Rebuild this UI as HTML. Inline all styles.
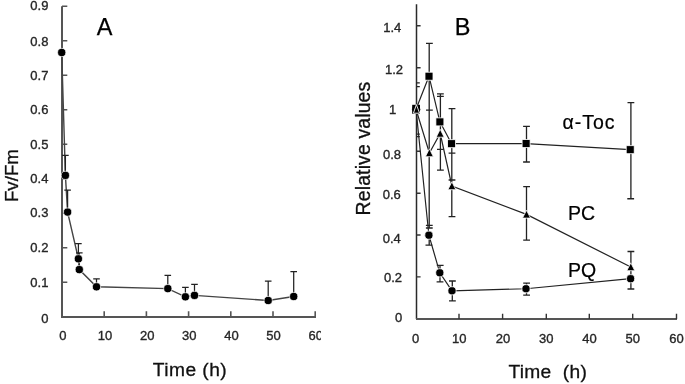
<!DOCTYPE html>
<html><head><meta charset="utf-8"><style>
html,body{margin:0;padding:0;background:#fff;}
body{width:685px;height:384px;overflow:hidden;}
svg{display:block;filter:grayscale(1);}
text{font-family:"Liberation Sans", sans-serif;}
.tk{font-size:13px;fill:#262626;stroke:#262626;stroke-width:0.35px;}
.big{font-size:23.5px;fill:#000;stroke:#000;stroke-width:0.25px;}
.ttl{font-size:18.7px;fill:#111;stroke:#111;stroke-width:0.3px;}
.lbl{font-size:19.5px;fill:#000;stroke:#000;stroke-width:0.2px;}
</style></head><body>
<svg width="685" height="384" viewBox="0 0 685 384">
<defs><clipPath id="ca"><rect x="0" y="0" width="321" height="384"/></clipPath></defs>
<rect width="685" height="384" fill="#fff"/>
<path d="M62 6.3 V316.9 H316" fill="none" stroke="#555" stroke-width="2" stroke-linejoin="miter"/>
<path d="M62 316.7 H67.3 M62 282.2 H67.3 M62 247.7 H67.3 M62 213.2 H67.3 M62 178.7 H67.3 M62 144.2 H67.3 M62 109.8 H67.3 M62 75.3 H67.3 M62 40.8 H67.3 M62 6.3 H67.3 M104.2 317 V311.3 M146.4 317 V311.3 M188.6 317 V311.3 M230.8 317 V311.3 M273.0 317 V311.3 M315.2 317 V311.3" fill="none" stroke="#555" stroke-width="1.6"/>
<text x="48.4" y="322.5" text-anchor="end" class="tk">0</text>
<text x="48.4" y="287.4" text-anchor="end" class="tk">0.1</text>
<text x="48.4" y="252.2" text-anchor="end" class="tk">0.2</text>
<text x="48.4" y="217.4" text-anchor="end" class="tk">0.3</text>
<text x="48.4" y="182.9" text-anchor="end" class="tk">0.4</text>
<text x="48.4" y="148.9" text-anchor="end" class="tk">0.5</text>
<text x="48.4" y="114.2" text-anchor="end" class="tk">0.6</text>
<text x="48.4" y="79.7" text-anchor="end" class="tk">0.7</text>
<text x="48.4" y="46.2" text-anchor="end" class="tk">0.8</text>
<text x="48.4" y="10.2" text-anchor="end" class="tk">0.9</text>
<text x="62.9" y="340.2" text-anchor="middle" class="tk">0</text>
<text x="105.0" y="340.2" text-anchor="middle" class="tk">10</text>
<text x="147.2" y="340.2" text-anchor="middle" class="tk">20</text>
<text x="189.3" y="340.2" text-anchor="middle" class="tk">30</text>
<text x="231.5" y="340.2" text-anchor="middle" class="tk">40</text>
<text x="273.6" y="340.2" text-anchor="middle" class="tk">50</text>
<text x="315.8" y="340.2" text-anchor="middle" class="tk" clip-path="url(#ca)">60</text>
<polyline points="61.7,52.5 65.4,175.4 67.6,212.1 78.4,258.8 79.3,269.6 96.5,286.8 167.8,288.6 185.4,296.8 194.5,295.4 268.2,300.5 293.7,296.5" fill="none" stroke="#444" stroke-width="1.4"/>
<path d="M65.4 175.4 V155.4 M62.1 155.4 H68.7 M67.6 212.1 V190.0 M64.3 190.0 H70.9 M78.4 258.8 V243.7 M75.1 243.7 H81.7 M79.3 269.6 V252.8 M76.0 252.8 H82.6 M96.5 286.8 V278.9 M93.2 278.9 H99.8 M167.8 288.6 V275.4 M164.5 275.4 H171.1 M185.4 296.8 V287.3 M182.1 287.3 H188.7 M194.5 295.4 V284.3 M191.2 284.3 H197.8 M268.2 300.5 V281.2 M264.9 281.2 H271.5 M293.7 296.5 V271.5 M290.4 271.5 H297.0" fill="none" stroke="#222" stroke-width="1.25"/>
<circle cx="61.7" cy="52.5" r="4.1" fill="#000" stroke="#fff" stroke-width="0.7"/>
<circle cx="65.4" cy="175.4" r="4.1" fill="#000" stroke="#fff" stroke-width="0.7"/>
<circle cx="67.6" cy="212.1" r="4.1" fill="#000" stroke="#fff" stroke-width="0.7"/>
<circle cx="78.4" cy="258.8" r="4.1" fill="#000" stroke="#fff" stroke-width="0.7"/>
<circle cx="79.3" cy="269.6" r="4.1" fill="#000" stroke="#fff" stroke-width="0.7"/>
<circle cx="96.5" cy="286.8" r="4.1" fill="#000" stroke="#fff" stroke-width="0.7"/>
<circle cx="167.8" cy="288.6" r="4.1" fill="#000" stroke="#fff" stroke-width="0.7"/>
<circle cx="185.4" cy="296.8" r="4.1" fill="#000" stroke="#fff" stroke-width="0.7"/>
<circle cx="194.5" cy="295.4" r="4.1" fill="#000" stroke="#fff" stroke-width="0.7"/>
<circle cx="268.2" cy="300.5" r="4.1" fill="#000" stroke="#fff" stroke-width="0.7"/>
<circle cx="293.7" cy="296.5" r="4.1" fill="#000" stroke="#fff" stroke-width="0.7"/>
<text x="96.8" y="35" class="big">A</text>
<text transform="translate(17.6 175.6) rotate(-90)" text-anchor="middle" class="ttl">Fv/Fm</text>
<text x="190" y="375.8" text-anchor="middle" class="ttl" style="font-size:19.2px;letter-spacing:0.45px">Time (h)</text>
<path d="M416.5 4.3 V318.9" fill="none" stroke="#2a2a2a" stroke-width="1.5"/>
<path d="M416 318.9 H677" fill="none" stroke="#555" stroke-width="2"/>
<path d="M416.5 276.9 H420.6 M416.5 235.0 H420.6 M416.5 193.2 H420.6 M416.5 151.3 H420.6 M416.5 109.5 H420.6 M416.5 67.7 H420.6 M416.5 25.8 H420.6 M459.0 319 V313.7 M502.6 319 V313.7 M546.3 319 V313.7 M589.3 319 V313.7 M632.7 319 V313.7 M676.5 319 V313.7" fill="none" stroke="#333" stroke-width="1.4"/>
<text x="392.3" y="31.9" text-anchor="middle" class="tk">1.4</text>
<text x="394.0" y="73.6" text-anchor="middle" class="tk">1.2</text>
<text x="392.7" y="114.0" text-anchor="middle" class="tk">1</text>
<text x="392.0" y="158.9" text-anchor="middle" class="tk">0.8</text>
<text x="391.8" y="199.4" text-anchor="middle" class="tk">0.6</text>
<text x="391.8" y="242.8" text-anchor="middle" class="tk">0.4</text>
<text x="393.0" y="282.0" text-anchor="middle" class="tk">0.2</text>
<text x="398.6" y="322.4" text-anchor="middle" class="tk">0</text>
<text x="415.5" y="342.8" text-anchor="middle" class="tk">0</text>
<text x="459.2" y="342.8" text-anchor="middle" class="tk">10</text>
<text x="502.9" y="342.8" text-anchor="middle" class="tk">20</text>
<text x="546.3" y="342.8" text-anchor="middle" class="tk">30</text>
<text x="589.5" y="342.8" text-anchor="middle" class="tk">40</text>
<text x="632.8" y="342.8" text-anchor="middle" class="tk">50</text>
<text x="676.5" y="342.8" text-anchor="middle" class="tk">60</text>
<polyline points="416,109.3 429,76.2 439.9,121.9 451.6,143.7 526.1,143.6 630.2,149.7" fill="none" stroke="#222" stroke-width="1.2"/>
<polyline points="416,109.3 429.4,153.0 440.2,133.5 451.9,186.0 526.5,214.4 630.8,267.0" fill="none" stroke="#222" stroke-width="1.2"/>
<polyline points="416,109.3 428.9,235.2 439.8,272.8 452.0,290.8 526.0,288.75 630.6,278.7" fill="none" stroke="#222" stroke-width="1.2"/>
<path d="M429.2 43.3 V228.0 M429.2 235.2 V245.2 M440.4 93.8 V170.1 M440.0 272.8 V281.9 M440.0 265.4 V272.8 M451.8 108.6 V216.7 M452.3 281.0 V300.9 M526.5 126.4 V162.0 M526.5 186.7 V240.2 M526.5 283.2 V295.2 M630.9 102.7 V198.75 M630.9 251.5 V289.0 M426.0 43.3 H432.8 M426.0 110.2 H432.8 M425.9 225.4 H432.7 M425.9 228.0 H432.7 M425.5 245.2 H432.3 M437.0 93.8 H443.8 M437.0 96.3 H443.8 M437.0 149.3 H443.8 M437.0 170.1 H443.8 M436.8 265.4 H443.6 M436.6 281.9 H443.4 M448.6 108.6 H455.4 M448.6 153.2 H455.4 M448.6 180.0 H455.4 M448.6 216.7 H455.4 M449.0 281.0 H455.8 M449.0 300.9 H455.8 M523.1 126.4 H529.9 M523.1 162.0 H529.9 M523.2 186.7 H530.0 M523.2 240.2 H530.0 M523.2 283.2 H530.0 M523.2 295.2 H530.0 M627.5 102.7 H634.3 M627.3 198.75 H634.1 M627.5 251.5 H634.3 M627.5 289.0 H634.3 M416.5 82.8 H419.8 M416.5 86.7 H419.8 M416.5 134.1 H419.8 M416.5 136.7 H419.8" fill="none" stroke="#222" stroke-width="1.3"/>
<circle cx="416" cy="109.3" r="4.1" fill="#000" stroke="#fff" stroke-width="0.8"/>
<circle cx="428.9" cy="235.2" r="4.1" fill="#000" stroke="#fff" stroke-width="0.8"/>
<circle cx="439.8" cy="272.8" r="4.1" fill="#000" stroke="#fff" stroke-width="0.8"/>
<circle cx="452.0" cy="290.8" r="4.1" fill="#000" stroke="#fff" stroke-width="0.8"/>
<circle cx="526.0" cy="288.75" r="4.1" fill="#000" stroke="#fff" stroke-width="0.8"/>
<circle cx="630.6" cy="278.7" r="4.1" fill="#000" stroke="#fff" stroke-width="0.8"/>
<rect x="412.2" y="104.8" width="7.8" height="9" fill="#000"/>
<rect x="425.0" y="72.2" width="8" height="8" fill="#000" stroke="#fff" stroke-width="0.8"/>
<rect x="435.9" y="117.9" width="8" height="8" fill="#000" stroke="#fff" stroke-width="0.8"/>
<rect x="447.6" y="139.7" width="8" height="8" fill="#000" stroke="#fff" stroke-width="0.8"/>
<rect x="522.1" y="139.6" width="8" height="8" fill="#000" stroke="#fff" stroke-width="0.8"/>
<rect x="626.2" y="145.7" width="8" height="8" fill="#000" stroke="#fff" stroke-width="0.8"/>
<path d="M416.4 104.6 L419.6 113.2 L413.4 113.2 Z" fill="#000" stroke="#fff" stroke-width="0.9"/>
<path d="M429.4 148.8 L433.4 156.7 L425.4 156.7 Z" fill="#000" stroke="#fff" stroke-width="0.8"/>
<path d="M440.2 129.3 L444.2 137.2 L436.2 137.2 Z" fill="#000" stroke="#fff" stroke-width="0.8"/>
<path d="M451.9 181.8 L455.9 189.7 L447.9 189.7 Z" fill="#000" stroke="#fff" stroke-width="0.8"/>
<path d="M526.5 210.2 L530.5 218.1 L522.5 218.1 Z" fill="#000" stroke="#fff" stroke-width="0.8"/>
<path d="M630.8 262.8 L634.8 270.7 L626.8 270.7 Z" fill="#000" stroke="#fff" stroke-width="0.8"/>
<text x="454.8" y="34.5" class="big">B</text>
<text transform="translate(369.5 148.5) rotate(-90)" text-anchor="middle" class="ttl" style="font-size:19.4px;letter-spacing:0.15px">Relative values</text>
<text x="547.8" y="377.6" text-anchor="middle" class="ttl" xml:space="preserve" style="font-size:19.2px;letter-spacing:0.3px">Time  (h)</text>
<text x="562.5" y="129.2" class="lbl" style="letter-spacing:1px">α-Toc</text>
<text x="568" y="219.7" class="lbl">PC</text>
<text x="568" y="276.5" class="lbl">PQ</text>
</svg>
</body></html>
